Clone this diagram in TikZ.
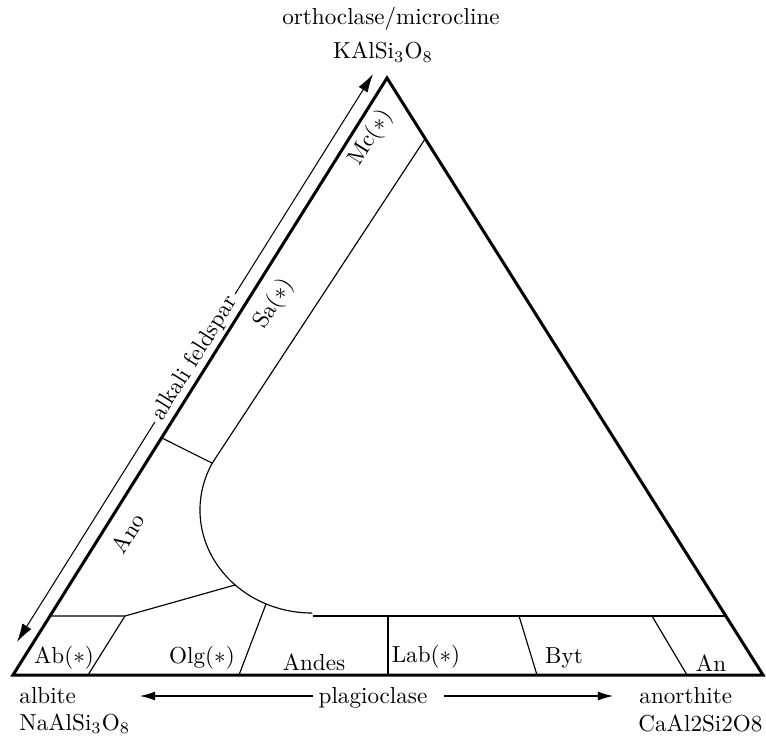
\documentclass[tikz,border=0pt]{standalone}
\usetikzlibrary{arrows.meta}
\begin{document}
\begin{tikzpicture}[x=0.0152cm,y=-0.0152cm,
  frame/.style={line width=1.3pt, line join=miter},
  divider/.style={line width=0.5pt},
  tipped/.style={line width=0.45pt},
  bigtip/.style={Latex[length=8pt,width=4.6pt]},
  smalltip/.style={Latex[length=6.5pt,width=3.8pt]},
  lbl/.style={inner sep=0pt, font=\fontsize{10}{12}\selectfont},
  sidelbl/.style={lbl, rotate=57.9},
]
\useasboundingbox (0,0) rectangle (766,740);
% corners
\coordinate (Ab) at (13,675);
\coordinate (An) at (763,675);
\coordinate (Or) at (387,78);
% alkali feldspar arrow
\coordinate (kB) at (17,642);
\coordinate (kT) at (373,74);
\draw[tipped,{Latex[length=8pt,width=4.6pt]}-{Latex[length=8pt,width=4.6pt]}] (kB) -- node[lbl, sloped, fill=white, inner xsep=2pt, inner ysep=1pt] (alk) {alkali feldspar} (kT);
% triangle
\draw[frame] (Ab) -- (An) -- (Or) -- cycle;
% field boundaries
\coordinate (leftSa) at (162,438);
\coordinate (arcTop) at (212.2,463.2);
\coordinate (rightSa) at (425,139);
\coordinate (c1) at (194.5,495.2);
\coordinate (c2) at (196.1,533.3);
\coordinate (arcMid) at (216.5,563.8);
\coordinate (c3) at (236.9,594.4);
\coordinate (c4) at (273,613);
\coordinate (arcEnd) at (312,613);
\coordinate (arcAb) at (235,585);
\coordinate (arcOlg) at (266,604);
\coordinate (bL) at (50,616);
\coordinate (bAb) at (125,616);
\coordinate (bR0) at (313,616);
\coordinate (bR) at (726,616);
\draw[divider] (leftSa) -- (arcTop) -- (rightSa);
\draw[divider] (arcTop) .. controls (c1) and (c2) .. (arcMid) .. controls (c3) and (c4) .. (arcEnd);
\draw[divider] (bR0) -- (bR);
\draw[divider] (bL) -- (bAb) -- (arcAb);
% plagioclase dividers
\coordinate (d1b) at (88,675);
\coordinate (d2b) at (239,675);
\coordinate (d3b) at (388,675);
\coordinate (d3t) at (388,616);
\coordinate (d4b) at (537,675);
\coordinate (d4t) at (519,616);
\coordinate (d5b) at (687,675);
\coordinate (d5t) at (652,616);
\draw[divider] (d1b) -- (bAb);
\draw[divider] (d2b) -- (arcOlg);
\draw[divider] (d3b) -- (d3t);
\draw[divider] (d4b) -- (d4t);
\draw[divider] (d5b) -- (d5t);
% band labels
\node[lbl] (lAb) at (64,658) {Ab($*$)};
\node[lbl] (lOlg) at (202,658) {Olg($*$)};
\node[lbl] (lAndes) at (314,662) {Andes};
\node[lbl] (lLab) at (426,657) {Lab($*$)};
\node[lbl] (lByt) at (564,658) {Byt};
\node[lbl] (lAn) at (711,663) {An};
% side labels
\node[sidelbl] (lMc) at (371,138) {Mc($*$)};
\node[sidelbl] (lSa) at (274,304) {Sa($*$)};
\node[sidelbl] (lAno) at (128,533) {Ano};
% end member labels
\node[lbl, anchor=base] (orth) at (391,25) {orthoclase/microcline};
\node[lbl, anchor=base] (kal) at (383,59) {KAlSi$_3$O$_8$};
\node[lbl, anchor=base west] (alb) at (19,703) {albite};
\node[lbl, anchor=base west] (naal) at (19,730) {NaAlSi$_3$O$_8$};
\node[lbl, anchor=base west] (anor) at (639,703) {anorthite};
\node[lbl, anchor=base west] (caal) at (638,731) {CaAl2Si2O8};
% plagioclase axis
\node[lbl, anchor=base] (plag) at (373,703) {plagioclase};
\coordinate (pl1) at (313,696);
\coordinate (pl2) at (140,696);
\coordinate (pr1) at (444,696);
\coordinate (pr2) at (613,696);
\draw[tipped,-{Latex[length=6.5pt,width=3.8pt]}] (pl1) -- (pl2);
\draw[tipped,-{Latex[length=6.5pt,width=3.8pt]}] (pr1) -- (pr2);
\end{tikzpicture}
\end{document}
